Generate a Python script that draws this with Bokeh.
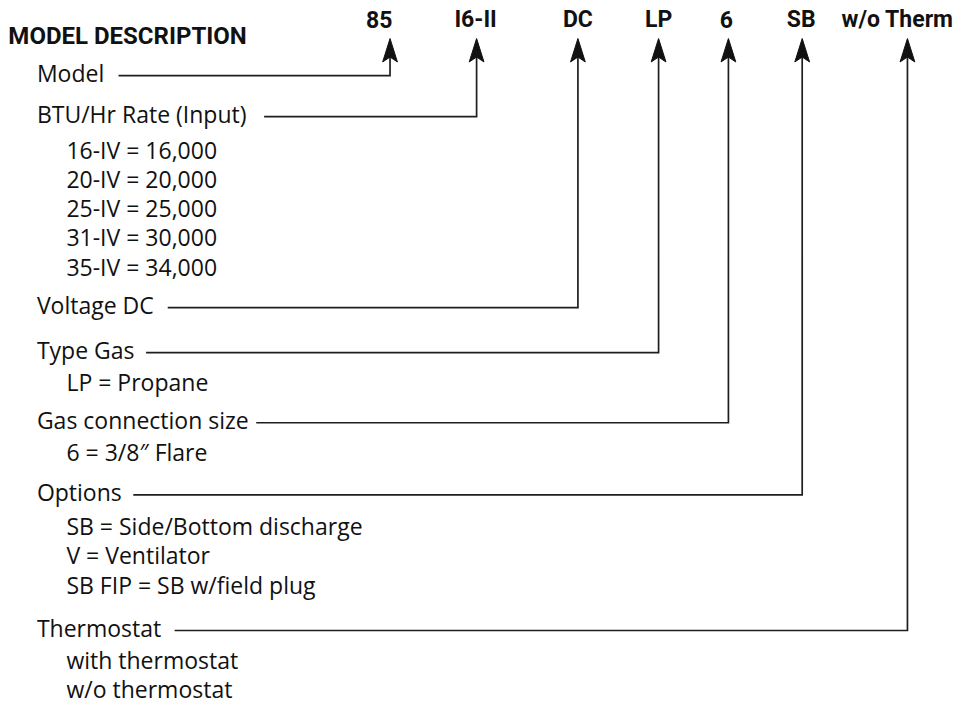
from bokeh.plotting import figure
from bokeh.models import Range1d
from bokeh.core.properties import value
from bokeh.embed import file_html
from bokeh.resources import INLINE

# ---- content ----
title = "MODEL DESCRIPTION"
codes = ["85", "I6-II", "DC", "LP", "6", "SB", "w/o Therm"]
headings = ["Model", "BTU/Hr Rate (Input)", "Voltage DC", "Type Gas",
            "Gas connection size", "Options", "Thermostat"]
sub_items = [
    [],
    ["16-IV = 16,000", "20-IV = 20,000", "25-IV = 25,000",
     "31-IV = 30,000", "35-IV = 34,000"],
    [],
    ["LP = Propane"],
    ["6 = 3/8\u2033 Flare"],
    ["SB = Side/Bottom discharge", "V = Ventilator", "SB FIP = SB w/field plug"],
    ["with thermostat", "w/o thermostat"],
]

# ---- layout (reference-picture pixel coordinates) ----
arrow_x = [396, 484, 587, 669, 740, 815, 922]
code_label_x = [385, 483, 587, 669, 738, 814, 912]
heading_line_y = [79, 121, 317, 363, 435, 509, 648]
line_start_x = [120, 268, 170, 148, 260, 135, 177]
first_sub_gap = [0, 34, 0, 30, 30, 32, 30]
heading_x = 37
sub_x = 67
sub_step = 30
code_y = 21
arrow_tip_y = 41
arrow_base_y = 65
arrow_notch_y = 60
arrow_half_w = 7.5

FONT = "Open Sans"
BOLD_FONT = "Roboto"
TEXT_COLOR = "#111111"
LINE_COLOR = "#1e1e1e"

p = figure(width=964, height=708, output_backend="svg", toolbar_location=None,
           x_range=Range1d(0, 980), y_range=Range1d(728, 2),
           min_border=0, background_fill_color="white")
p.axis.visible = False
p.grid.visible = False
p.outline_line_color = None

# title
p.text(x=[8], y=[38], text=[title], text_font=value(BOLD_FONT),
       text_font_style="bold", text_font_size="24px", text_align="left",
       text_baseline="middle", text_color=TEXT_COLOR)

# codes
p.text(x=code_label_x, y=[code_y] * len(codes), text=codes,
       text_font=value(BOLD_FONT), text_font_style="bold",
       text_font_size="23px", text_align="center", text_baseline="middle",
       text_color=TEXT_COLOR)

# headings
p.text(x=[heading_x] * len(headings), y=[y - 3 for y in heading_line_y],
       text=headings, text_font=value(FONT), text_font_size="23px",
       text_align="left", text_baseline="middle", text_color=TEXT_COLOR)

# sub items
sx, sy, st = [], [], []
for hy, gap, items in zip(heading_line_y, first_sub_gap, sub_items):
    for k, s in enumerate(items):
        sx.append(sub_x)
        sy.append(hy + gap + sub_step * k)
        st.append(s)
p.text(x=sx, y=sy, text=st, text_font=value(FONT), text_font_size="23px",
       text_align="left", text_baseline="middle", text_color=TEXT_COLOR)

# connector lines (horizontal leader, then up to the arrowhead)
lxs = [[x0, ax, ax] for x0, ax in zip(line_start_x, arrow_x)]
lys = [[y, y, arrow_notch_y] for y in heading_line_y]
p.multi_line(xs=lxs, ys=lys, line_color=LINE_COLOR, line_width=1.7,
             line_join="miter")

# arrowheads
xs = [[x, x + arrow_half_w, x, x - arrow_half_w] for x in arrow_x]
ys = [[arrow_tip_y, arrow_base_y, arrow_notch_y, arrow_base_y] for _ in arrow_x]
p.patches(xs=xs, ys=ys, fill_color="#111111", line_color="#111111", line_width=1)

open("out.html", "w").write(file_html(p, INLINE))
